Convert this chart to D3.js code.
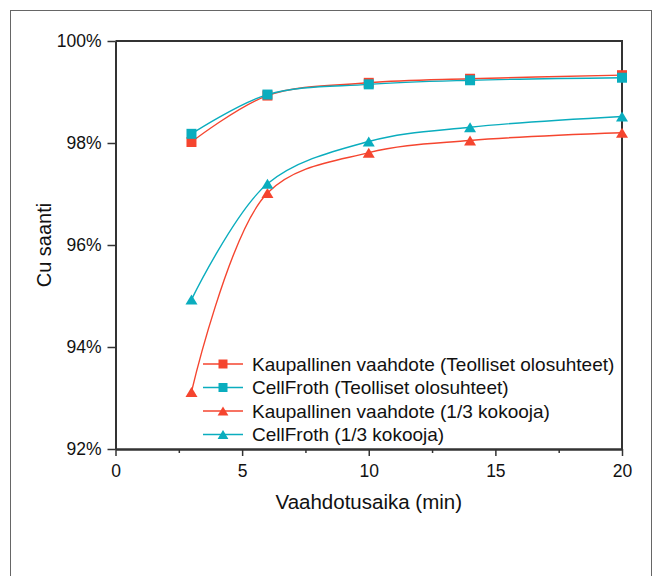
<!DOCTYPE html>
<html>
<head>
<meta charset="utf-8">
<script src="https://cdn.jsdelivr.net/npm/d3@7"></script>
<style>
  body { margin: 0; background: #fff; }
  text { font-family: "Liberation Sans", Arial, sans-serif; fill: #111; }
</style>
</head>
<body>
<div id="canvas"></div>
<script>
var width = 654;
var height = 576;

// data
var times = [3, 6, 10, 14, 20];
var kaupTeol = [98.02, 98.93, 99.18, 99.26, 99.33];
var cellTeol = [98.18, 98.95, 99.15, 99.23, 99.28];
var kaup13 = [93.12, 97.02, 97.81, 98.05, 98.20];
var cell13 = [94.93, 97.20, 98.03, 98.31, 98.52];
var seriesNames = [
    "Kaupallinen vaahdote (Teolliset olosuhteet)",
    "CellFroth (Teolliset olosuhteet)",
    "Kaupallinen vaahdote (1/3 kokooja)",
    "CellFroth (1/3 kokooja)"
];
var xTicks = [0, 5, 10, 15, 20];
var xMinorTicks = [2.5, 7.5, 12.5, 17.5];
var yTicks = [0.92, 0.94, 0.96, 0.98, 1.00];

var red = "#f5452f";
var cyan = "#0aadbe";

var series = [
    { name: seriesNames[0], values: kaupTeol, color: red, shape: "square" },
    { name: seriesNames[1], values: cellTeol, color: cyan, shape: "square" },
    { name: seriesNames[2], values: kaup13, color: red, shape: "triangle" },
    { name: seriesNames[3], values: cell13, color: cyan, shape: "triangle" }
];

var svg = d3.select("#canvas")
    .append("svg")
    .attr("width", width)
    .attr("height", height);

// outer frame
svg.append("rect")
    .attr("x", 10.5)
    .attr("y", 10.5)
    .attr("width", 641)
    .attr("height", 600)
    .attr("fill", "none")
    .attr("stroke", "#666")
    .attr("stroke-width", 1);

var xScale = d3.scaleLinear()
    .domain([0, 20])
    .range([115.5, 622]);

var yScale = d3.scaleLinear()
    .domain([0.92, 1.00])
    .range([449, 41]);

// plot box top and right
svg.append("path")
    .attr("d", "M" + xScale(0) + "," + yScale(1) + "H" + xScale(20) + "V" + yScale(0.92))
    .attr("fill", "none")
    .attr("stroke", "#333")
    .attr("stroke-width", 2);

var xAxis = d3.axisBottom(xScale)
    .tickValues(xTicks)
    .tickSize(7)
    .tickSizeOuter(0)
    .tickPadding(9);

var xMinor = d3.axisBottom(xScale)
    .tickValues(xMinorTicks)
    .tickSize(4)
    .tickSizeOuter(0)
    .tickFormat("");

var yAxis = d3.axisLeft(yScale)
    .tickValues(yTicks)
    .tickSize(8)
    .tickSizeOuter(0)
    .tickPadding(6)
    .tickFormat(d3.format(".0%"));

var gxm = svg.append("g")
    .attr("transform", "translate(0," + yScale(0.92) + ")")
    .call(xMinor);

var gx = svg.append("g")
    .attr("transform", "translate(0," + yScale(0.92) + ")")
    .call(xAxis);

var gy = svg.append("g")
    .attr("transform", "translate(" + xScale(0) + ",0)")
    .call(yAxis);

[gx, gxm, gy].forEach(g => {
    g.select(".domain").attr("stroke", "#333").attr("stroke-width", 2);
    g.selectAll(".tick line").attr("stroke", "#333").attr("stroke-width", 1.5);
    g.selectAll(".tick text")
        .style("font-family", "'Liberation Sans', Arial, sans-serif")
        .style("font-size", "17.5px")
        .attr("fill", "#111");
});

// axis titles
svg.append("text")
    .attr("text-anchor", "middle")
    .attr("x", (xScale(0) + xScale(20)) / 2)
    .attr("y", 509)
    .style("font-size", "20.5px")
    .text("Vaahdotusaika (min)");

svg.append("text")
    .attr("text-anchor", "middle")
    .attr("transform", "translate(51," + (yScale(0.92) + yScale(1)) / 2 + ") rotate(-90)")
    .style("font-size", "20px")
    .text("Cu saanti");

function markerPath(shape, s) {
    if (shape == "square") {
        return "M" + (-s / 2) + "," + (-s / 2) + "h" + s + "v" + s + "h" + (-s) + "Z";
    }
    var w = s * 1.2;
    return "M0," + (-s / 2) + "L" + (w / 2) + "," + (s / 2) + "L" + (-w / 2) + "," + (s / 2) + "Z";
}

var line = d3.line()
    .x((d, i) => xScale(times[i]))
    .y(d => yScale(d / 100))
    .curve(d3.curveCatmullRom.alpha(0.5));

series.forEach(s => {
    svg.append("path")
        .datum(s.values)
        .attr("d", line)
        .attr("fill", "none")
        .attr("stroke", s.color)
        .attr("stroke-width", 1.4);

    svg.selectAll(null)
        .data(s.values)
        .enter()
        .append("path")
        .attr("transform", (d, i) => "translate(" + xScale(times[i]) + "," + yScale(d / 100) + ")")
        .attr("d", markerPath(s.shape, 10))
        .attr("fill", s.color);
});

// legend
var legend = svg.append("g");
series.forEach((s, i) => {
    var y = 364 + i * 23.5;
    legend.append("line")
        .attr("x1", 203)
        .attr("x2", 243)
        .attr("y1", y)
        .attr("y2", y)
        .attr("stroke", s.color)
        .attr("stroke-width", 1.4);
    legend.append("path")
        .attr("transform", "translate(223," + y + ")")
        .attr("d", markerPath(s.shape, 9))
        .attr("fill", s.color);
    legend.append("text")
        .attr("x", 252)
        .attr("y", y + 6.5)
        .style("font-size", "19px")
        .text(s.name);
});
</script>
</body>
</html>
